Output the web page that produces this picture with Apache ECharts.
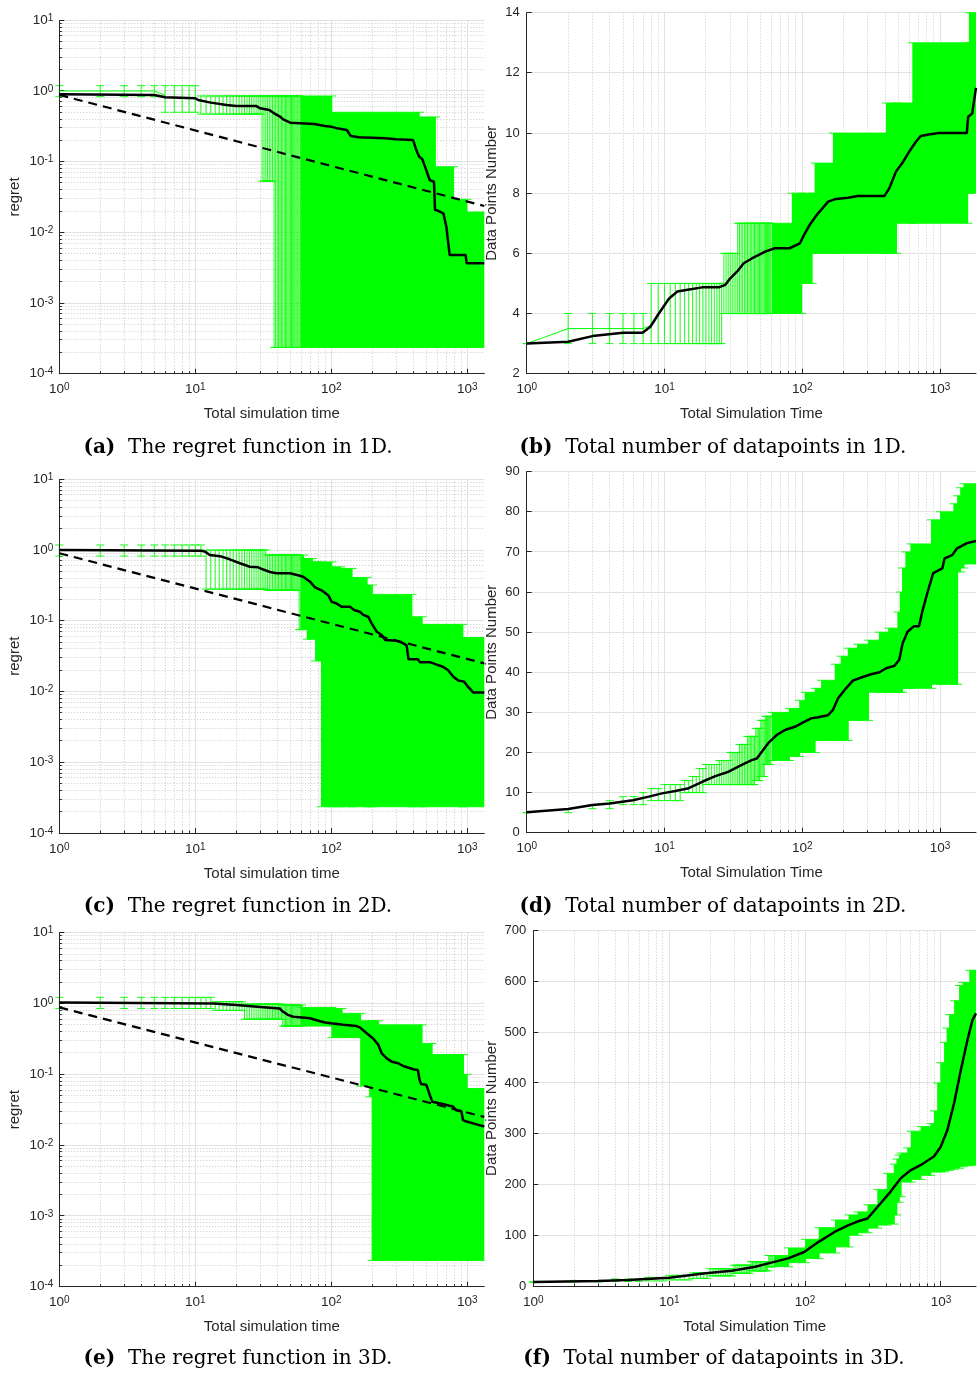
<!DOCTYPE html>
<html><head><meta charset="utf-8">
<script src="https://cdn.jsdelivr.net/npm/echarts@6/dist/echarts.min.js"></script>
<style>html,body{margin:0;padding:0;background:#fff}#c{width:979px;height:1374px}</style>
</head><body><div id="c"></div>
<script>
// ===== DATA =====
// Mean curves [time, value]
const aMean = [[1,0.897],[5,0.878],[6,0.813],[10,0.788],[10.5,0.746],[13,0.684],[17,0.634],[20,0.614],[28,0.614],[30,0.568],[35,0.538],[38,0.483],[42,0.433],[45,0.389],[50,0.356],[75,0.341],[90,0.320],[100,0.313],[110,0.296],[130,0.281],[139,0.231],[159,0.221],[250,0.214],[300,0.207],[399,0.203],[422,0.146],[442,0.118],[467,0.108],[489,0.085],[529,0.055],[569,0.052],[579,0.0207],[600,0.0205],[667,0.0186],[702,0.0120],[742,0.00477],[972,0.00477],[990,0.00364],[1334,0.00364]];
const cMean = [[1,1.0],[11,0.98],[11.8,0.95],[12.8,0.85],[15.2,0.82],[17.9,0.74],[21.3,0.65],[25.2,0.58],[29,0.57],[31.6,0.53],[35.4,0.49],[39.5,0.47],[49.6,0.47],[57,0.44],[62,0.42],[69.5,0.36],[75.5,0.30],[84.7,0.27],[95,0.23],[100.5,0.186],[109,0.176],[119,0.158],[137,0.158],[147,0.142],[162,0.134],[172,0.121],[187,0.114],[198,0.092],[216,0.070],[235,0.063],[249,0.0535],[302,0.052],[339,0.048],[358,0.045],[370,0.0285],[434,0.0285],[448,0.026],[532,0.026],[596,0.024],[663,0.0224],[723,0.020],[790,0.0162],[859,0.0143],[947,0.0138],[1012,0.0117],[1104,0.0097],[1334,0.0097]];
const eMean = [[1,1.03],[13.6,1.0],[20,0.95],[33.4,0.88],[41.8,0.85],[44,0.77],[48,0.69],[52.5,0.65],[69.8,0.62],[78,0.58],[90,0.54],[103,0.52],[122,0.50],[153,0.48],[162,0.46],[182,0.38],[203,0.32],[222,0.26],[235,0.197],[256,0.168],[280,0.15],[311,0.143],[338,0.131],[400,0.118],[433,0.115],[446,0.083],[457,0.073],[500,0.071],[530,0.051],[553,0.041],[560,0.040],[660,0.038],[740,0.036],[785,0.035],[830,0.031],[905,0.030],[930,0.0225],[985,0.0215],[1100,0.0203],[1334,0.0183]];
const bMean = [[1,3.0],[2,3.06],[3,3.25],[5,3.36],[6.94,3.36],[7.9,3.56],[9.1,4.0],[10.8,4.5],[12.4,4.73],[15.1,4.8],[18.8,4.87],[24.8,4.87],[27.6,4.95],[30,5.17],[33.6,5.39],[37.6,5.67],[43.1,5.83],[48,5.94],[53.8,6.06],[63.3,6.17],[81.1,6.17],[96,6.33],[104.2,6.66],[113,6.94],[127,7.27],[138,7.46],[154,7.72],[176,7.81],[215,7.85],[253,7.91],[395,7.91],[428,8.16],[478,8.71],[534,9.01],[597,9.38],[668,9.71],[724,9.9],[852,9.96],[981,10.0],[1564,10.0],[1600,10.54],[1711,10.65],[1824,11.5]];
const dMean = [[1,5.07],[2,5.9],[3,6.9],[4,7.3],[5.9,8.1],[7.7,9.0],[9.6,9.8],[12,10.4],[15,11.1],[18.8,12.7],[23.4,14.1],[29.2,15.2],[36.4,16.9],[43,18.1],[46.8,18.5],[50.9,20.2],[56.9,22.4],[65.4,24.4],[75,25.6],[88.4,26.4],[104,27.7],[116,28.5],[130,28.8],[154,29.3],[167,30.6],[182,33.5],[203,35.6],[233,37.9],[268,38.7],[316,39.5],[364,40.0],[406,41.0],[466,41.6],[506,43.1],[535,47.2],[581,50.1],[648,51.5],[704,51.5],[743,55.1],[808,59.7],[892,64.7],[1039,65.9],[1080,68.4],[1225,69.2],[1330,70.9],[1568,72.2],[1824,72.7]];
const fMean = [[1,8],[3,10],[5,12],[10,16.4],[18.5,25],[29,30],[43,38],[53.7,44.6],[75,54.5],[98.5,67],[126,87],[166,107],[209,120],[243,127],[288,133],[360,163],[426,186],[505,212],[597,228],[707,238],[887,255],[994,274],[1114,307],[1249,360],[1400,425],[1568,485],[1705,524],[1811,537]];

// Reference (dashed) lines of the regret plots
const aRef = [[1,0.88],[1334,0.0236]];
const cRef = [[1,0.90],[1334,0.025]];
const eRef = [[1,0.88],[1334,0.025]];

// Green mean line of the error-bar plots (visible part)
const aGreen = [[1,1.0],[5,1.0],[6,0.87]];
const bGreen = [[1,3],[2,3.5],[7,3.5],[8,3.6]];

// Error-bar ranges: [firstTime, nextSegmentTime, lower, upper]
const aBand = [[1,6,0.83,1.19],[6,11,0.50,1.19],[11,31,0.47,0.85],[31,38,0.053,0.85],[38,100,2.35e-4,0.85],[100,440,2.35e-4,0.50],[440,578,2.35e-4,0.43],[578,785,2.35e-4,0.085],[785,985,2.35e-4,0.0293],[985,1334,2.35e-4,0.0194]];
const cBand = [[1,12,0.82,1.18],[12,34,0.28,1.0],[34,58,0.27,0.85],[58,62,0.075,0.85],[62,66,0.075,0.76],[66,72,0.055,0.76],[72,76,0.055,0.68],[76,84,0.027,0.68],[84,100,2.35e-4,0.68],[100,116,2.35e-4,0.58],[116,141,2.35e-4,0.55],[141,182,2.35e-4,0.41],[182,199,2.35e-4,0.32],[199,388,2.35e-4,0.236],[388,462,2.35e-4,0.114],[462,920,2.35e-4,0.089],[920,1334,2.35e-4,0.058]];
const eBand = [[1,14,0.85,1.22],[14,23,0.80,1.06],[23,44,0.60,0.98],[44,60,0.48,0.95],[60,100,0.48,0.88],[100,119,0.33,0.85],[119,163,0.33,0.725],[163,190,0.068,0.57],[190,198,0.048,0.57],[198,221,2.35e-4,0.57],[221,461,2.35e-4,0.50],[461,547,2.35e-4,0.273],[547,930,2.35e-4,0.19],[930,990,2.35e-4,0.10],[990,1334,2.35e-4,0.063]];
const bBand = [[1,2,3,3],[2,8,3,4],[8,27,3,5],[27,34,4,6],[34,84,4,7],[84,98,4,8],[98,117,5,8],[117,123,6,8],[123,167,6,9],[167,405,6,10],[405,479,6,11],[479,629,7,11],[629,1574,7,13],[1574,1619,8,13],[1619,1824,8,14]];
const dBand = [[1,2,5,5],[2,3,5,6],[3,4,6,7],[4,5,6,8],[5,7,7,9],[7,8,7,10],[8,10,8,11],[10,14,8,12],[14,16,10,13],[16,18,10,14],[18,20,10,16],[20,25,12,17],[25,30,12,18],[30,35,12,20],[35,40,12,22],[40,46,12,24],[46,50,13,26],[50,54,14,28],[54,60,17,29],[60,80,18,30],[80,95,19,31],[95,104,20,33],[104,123,20,35],[123,137,23,36],[137,172,23,38],[172,190,23,42],[190,214,23,44],[214,250,28,46],[250,300,28,47],[300,360,35,48],[360,420,35,50],[420,490,35,51],[490,510,35,55],[510,530,35,60],[530,560,36,66],[560,610,36,70],[610,860,36,72],[860,1000,37,78],[1000,1250,37,80],[1250,1330,37,82],[1330,1400,65,84],[1400,1480,66,86],[1480,1824,67,87]];
const fBand = [[1,2,7,9],[2,4,8,11],[4,7,9,14],[7,10,10,17],[10,15,12,21],[15,20,15,26],[20,30,20,34],[30,40,25,41],[40,54,30,48],[54,75,38,60],[75,100,46,75],[100,126,54,92],[126,166,65,115],[166,209,77,130],[209,243,100,140],[243,288,105,146],[288,340,114,160],[340,400,120,190],[400,450,122,222],[450,470,140,240],[470,490,165,250],[490,505,176,258],[505,564,205,262],[564,600,205,272],[600,707,210,305],[707,837,218,314],[837,887,225,320],[887,938,225,345],[938,990,225,400],[990,1054,225,440],[1054,1100,228,480],[1100,1147,228,508],[1147,1249,230,535],[1249,1360,232,562],[1360,1440,235,592],[1440,1615,237,598],[1615,1811,238,622]];

// Axis ranges and labels
const regretRange = [1e-4, 10];
const bRange = [2, 14, 2];
const dRange = [0, 90, 10];
const fRange = [0, 700, 100];
const xLabelLeft = 'Total simulation time';
const xLabelRight = 'Total Simulation Time';
const yLabelLeft = 'regret';
const yLabelRight = 'Data Points Number';
const captions = [
  ['(a)', 'The regret function in 1D.'],
  ['(b)', 'Total number of datapoints in 1D.'],
  ['(c)', 'The regret function in 2D.'],
  ['(d)', 'Total number of datapoints in 2D.'],
  ['(e)', 'The regret function in 3D.'],
  ['(f)', 'Total number of datapoints in 3D.']
];

// ===== STYLE / LAYOUT =====
const FONT = '"Liberation Sans", Arial, Helvetica, sans-serif';
const SERIF = '"DejaVu Serif", "Liberation Serif", serif';
const TXT = '#262626';
const GREEN = '#00ff00';

const panels = [
  {grid:{left:59.3, top:20.3, width:425, height:353.4}, log:true, xMax:1334, yr:regretRange, mean:aMean, band:aBand, ref:aRef, green:aGreen, xName:xLabelLeft, yName:yLabelLeft, gapY:37, cap:[238,448]},
  {grid:{left:526.7, top:12.7, width:452.3, height:361}, log:false, xMax:1824, yr:bRange, mean:bMean, band:bBand, green:bGreen, xName:xLabelRight, yName:yLabelRight, gapY:27, cap:[713,448]},
  {grid:{left:59.3, top:479.3, width:425, height:353.7}, log:true, xMax:1334, yr:regretRange, mean:cMean, band:cBand, ref:cRef, xName:xLabelLeft, yName:yLabelLeft, gapY:37, cap:[238,907]},
  {grid:{left:526.7, top:471.7, width:452.3, height:361}, log:false, xMax:1824, yr:dRange, mean:dMean, band:dBand, xName:xLabelRight, yName:yLabelRight, gapY:27, cap:[713,907]},
  {grid:{left:59.3, top:932.7, width:425, height:354}, log:true, xMax:1334, yr:regretRange, mean:eMean, band:eBand, ref:eRef, xName:xLabelLeft, yName:yLabelLeft, gapY:37, cap:[238,1359]},
  {grid:{left:533.3, top:930.7, width:445.7, height:355.3}, log:false, xMax:1811, yr:fRange, mean:fMean, band:fBand, xName:xLabelRight, yName:yLabelRight, gapY:34, cap:[714,1359]}
];

function powFmt(v) {
  const e = Math.log10(v), r = Math.round(e);
  if (Math.abs(e - r) > 1e-6) return '';
  return '{b|10}{s|' + r + '}';
}
const powRich = {
  b: {fontSize: 13.5, fontFamily: FONT, color: TXT, lineHeight: 14, verticalAlign: 'bottom'},
  s: {fontSize: 10, fontFamily: FONT, color: TXT, lineHeight: 10, verticalAlign: 'top', padding: [0, 0, 10, 0]}
};

function makeDecor(p) {
  return function (params, api) {
    const cs = params.coordSys;
    const L = cs.x, R = cs.x + cs.width, T = cs.y, B = cs.y + cs.height;
    const ch = [];
    const crisp = v => Math.round(v - 0.5) + 0.5;
    const seg = (x1, y1, x2, y2, style) => ch.push({type: 'line', silent: true, shape: {x1, y1, x2, y2}, style});
    const minorS = {stroke: '#c8c8c8', lineWidth: 1, lineDash: [1, 2]};
    const majorS = {stroke: '#e2e2e2', lineWidth: 1};
    const tickS = {stroke: TXT, lineWidth: 1};
    const xMaj = [], xMin = [];
    for (let k = 0; k <= 3; k++) {
      xMaj.push(Math.pow(10, k));
      for (let m = 2; m <= 9; m++) { const v = m * Math.pow(10, k); if (v < p.xMax) xMin.push(v); }
    }
    const yMaj = [], yMin = [];
    if (p.log) {
      for (let k = -4; k <= 1; k++) {
        yMaj.push(Math.pow(10, k));
        if (k < 1) for (let m = 2; m <= 9; m++) yMin.push(m * Math.pow(10, k));
      }
    } else {
      for (let v = p.yr[0]; v <= p.yr[1] + 1e-9; v += p.yr[2]) yMaj.push(v);
    }
    const X = v => crisp(api.coord([v, p.yr[0]])[0]);
    const Y = v => crisp(api.coord([1, v])[1]);
    xMin.forEach(v => seg(X(v), T, X(v), B, minorS));
    yMin.forEach(v => seg(L, Y(v), R, Y(v), minorS));
    xMaj.forEach(v => { if (X(v) > L + 1) seg(X(v), T, X(v), B, majorS); });
    yMaj.forEach(v => { if (Y(v) < B - 1) seg(L, Y(v), R, Y(v), majorS); });
    xMaj.forEach(v => seg(X(v), B, X(v), B - 5, tickS));
    xMin.forEach(v => seg(X(v), B, X(v), B - 2.5, tickS));
    yMaj.forEach(v => seg(L, Y(v), L + 5, Y(v), tickS));
    if (p.log) yMin.forEach(v => seg(L, Y(v), L + 2.5, Y(v), tickS));
    return {type: 'group', children: ch};
  };
}

function bandItem(params, api) {
  const xa = api.value(0), xb = api.value(1), lo = api.value(2), hi = api.value(3);
  const cs = params.coordSys, R = cs.x + cs.width;
  const ch = [];
  const st = {stroke: GREEN, lineWidth: 0.9};
  const ln = (x1, y1, x2, y2) => ch.push({type: 'line', shape: {x1, y1, x2, y2}, style: st});
  let t = Math.ceil(xa);
  while (t < xb) {
    const pLo = api.coord([t, lo]), pHi = api.coord([t, hi]);
    const gap = api.coord([t + 1, lo])[0] - pLo[0];
    if (gap < 1.0) break;
    const x = pLo[0];
    if (Math.abs(pLo[1] - pHi[1]) > 0.5) ln(x, pLo[1], x, pHi[1]);
    ln(x - 4, pLo[1], Math.min(x + 4, R), pLo[1]);
    ln(x - 4, pHi[1], Math.min(x + 4, R), pHi[1]);
    t++;
  }
  if (t < xb) {
    const a = api.coord([t, hi]), b = api.coord([xb, lo]);
    const x1 = a[0], x2 = Math.min(b[0] + 1, R);
    ch.push({type: 'rect', shape: {x: x1, y: a[1], width: x2 - x1, height: b[1] - a[1]}, style: {fill: GREEN}});
    ln(x1 - 4, a[1], Math.min(x2 + 4, R), a[1]);
    ln(x1 - 4, b[1], Math.min(x2 + 4, R), b[1]);
  }
  return {type: 'group', children: ch};
}

const grids = [], xAxes = [], yAxes = [], series = [], graphics = [];
panels.forEach((p, i) => {
  grids.push(Object.assign({containLabel: false}, p.grid));
  xAxes.push({
    type: 'log', logBase: 10, gridIndex: i, min: 1, max: p.xMax, z: 3,
    name: p.xName, nameLocation: 'middle', nameGap: 33,
    nameTextStyle: {fontSize: 15, fontFamily: FONT, color: TXT},
    axisLine: {show: true, onZero: false, lineStyle: {color: TXT, width: 1}},
    axisTick: {show: false}, minorTick: {show: false}, splitLine: {show: false}, minorSplitLine: {show: false},
    axisLabel: {interval: 0, margin: 9, formatter: powFmt, rich: powRich, color: TXT, showMinLabel: true, showMaxLabel: true, hideOverlap: false}
  });
  const y = {
    gridIndex: i, z: 3,
    name: p.yName, nameLocation: 'middle', nameGap: p.gapY,
    nameTextStyle: {fontSize: 15, fontFamily: FONT, color: TXT},
    axisLine: {show: true, onZero: false, lineStyle: {color: TXT, width: 1}},
    axisTick: {show: false}, minorTick: {show: false}, splitLine: {show: false}, minorSplitLine: {show: false}
  };
  if (p.log) {
    Object.assign(y, {type: 'log', logBase: 10, min: p.yr[0], max: p.yr[1],
      axisLabel: {interval: 0, margin: 6, formatter: powFmt, rich: powRich, color: TXT, hideOverlap: false}});
  } else {
    Object.assign(y, {type: 'value', min: p.yr[0], max: p.yr[1], interval: p.yr[2],
      axisLabel: {margin: 7, fontSize: 13, fontFamily: FONT, color: TXT, hideOverlap: false}});
  }
  yAxes.push(y);
  series.push({type: 'custom', xAxisIndex: i, yAxisIndex: i, z: 1, silent: true, animation: false,
    renderItem: makeDecor(p), data: [[1, p.yr[0]]]});
  series.push({type: 'custom', xAxisIndex: i, yAxisIndex: i, z: 2, silent: true, animation: false,
    renderItem: bandItem, encode: {x: [0, 1], y: [2, 3]}, data: p.band});
  if (p.green) series.push({type: 'line', xAxisIndex: i, yAxisIndex: i, z: 4, silent: true, animation: false,
    symbol: 'none', data: p.green, lineStyle: {color: GREEN, width: 1}});
  if (p.ref) series.push({type: 'line', xAxisIndex: i, yAxisIndex: i, z: 5, silent: true, animation: false,
    symbol: 'none', data: p.ref, lineStyle: {color: '#000', width: 2.2, type: [9, 6]}});
  series.push({type: 'line', xAxisIndex: i, yAxisIndex: i, z: 6, silent: true, animation: false,
    symbol: 'none', data: p.mean, lineStyle: {color: '#000', width: 2.5}});
  const c = captions[i];
  graphics.push({type: 'text', x: p.cap[0], y: p.cap[1], silent: true,
    style: {text: '{b|' + c[0] + '}  ' + c[1], fontFamily: SERIF, fontSize: 20, fill: '#000',
      align: 'center', verticalAlign: 'middle',
      rich: {b: {fontWeight: 'bold', fontFamily: SERIF, fontSize: 20, fill: '#000'}}}});
});

const chart = echarts.init(document.getElementById('c'), null, {renderer: 'canvas'});
chart.setOption({
  animation: false,
  backgroundColor: '#ffffff',
  textStyle: {fontFamily: FONT},
  grid: grids, xAxis: xAxes, yAxis: yAxes, series: series, graphic: graphics
});
</script></body></html>
